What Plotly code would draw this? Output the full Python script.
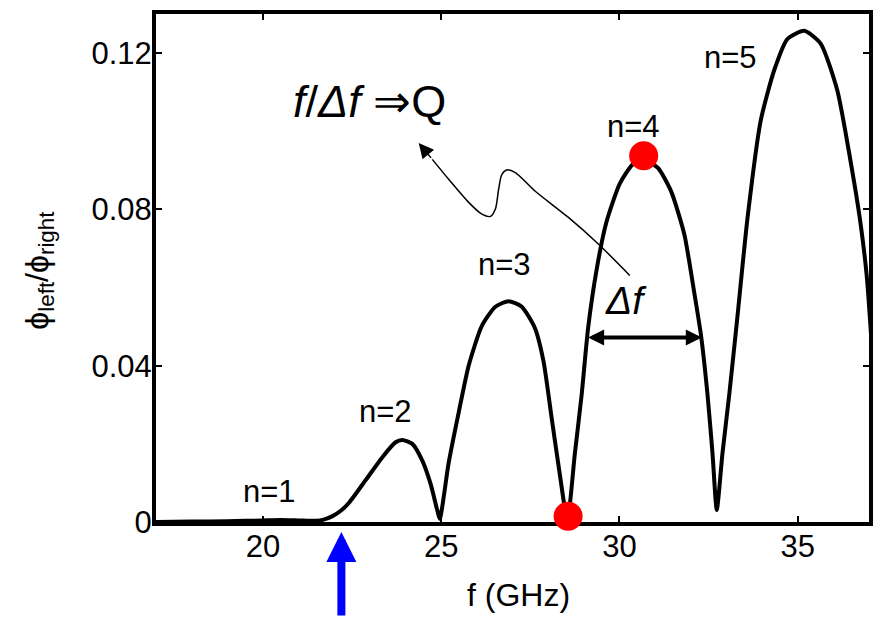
import plotly.graph_objects as go

# ---- data ----
freq_ghz = [17.0, 18.0, 19.0, 19.5, 20.0, 20.5, 21.0, 21.5, 21.7, 21.95, 22.2, 22.42, 22.88,
            23.35, 23.72, 23.91, 24.19, 24.47, 24.70, 24.89, 24.96, 25.21, 25.49,
            25.77, 26.14, 26.52, 26.89, 27.26, 27.63, 27.87, 28.10, 28.33, 28.54, 28.75,
            28.94, 29.12, 29.36, 29.63, 30.01, 30.38, 30.71, 31.08, 31.45, 31.82, 32.10,
            32.29, 32.47, 32.61, 32.73, 32.89, 33.08, 33.31, 33.59, 33.96, 34.34, 34.71,
            35.18, 35.64, 36.11, 36.48, 36.76, 36.94, 37.10]
phi_ratio = [0.0000, 0.0001, 0.0002, 0.0003, 0.0004, 0.0005, 0.0004, 0.0003, 0.0006, 0.0015,
             0.0030, 0.0050, 0.0107, 0.0166, 0.0204, 0.0210, 0.0200, 0.0157, 0.0098, 0.0030,
             0.0008, 0.0152, 0.0280, 0.0400, 0.0502, 0.0551, 0.0565, 0.0551, 0.0496,
             0.0411, 0.0265, 0.0120, 0.0005, 0.0176, 0.0326, 0.0496, 0.0646, 0.0766, 0.0866,
             0.0916, 0.0926, 0.0906, 0.0846, 0.0736, 0.0586, 0.0476, 0.0326, 0.0176, 0.0031,
             0.0176, 0.0326, 0.0526, 0.0776, 0.1026, 0.1156, 0.1236, 0.1257, 0.1225, 0.1105,
             0.0925, 0.0766, 0.0626, 0.0420]

dot_f = [28.56, 30.68]
dot_phi = [0.0015, 0.0937]

mode_labels = ["n=1", "n=2", "n=3", "n=4", "n=5"]
mode_label_f = [20.18, 23.45, 26.78, 30.38, 33.12]
mode_label_phi = [0.0079, 0.0284, 0.0658, 0.1011, 0.1188]

x_ticks = [20, 25, 30, 35]
y_ticks = [0, 0.04, 0.08, 0.12]
y_tick_text = ["0", "0.04", "0.08", "0.12"]

# half-width marker (Δf) and curved pointer
df_left, df_right, df_level = 29.08, 32.31, 0.0472
pointer_f = [30.29, 29.40, 28.56, 27.63, 27.08, 26.84, 26.70, 26.61, 26.52, 26.38,
             26.14, 25.77, 25.21, 24.75]
pointer_phi = [0.0631, 0.0712, 0.0780, 0.0847, 0.0894, 0.0901, 0.0889, 0.0851, 0.0801,
               0.0782, 0.0788, 0.0818, 0.0877, 0.0928]
pointer_tip = (24.37, 0.0970)
cutoff_f = 22.2

FONT = "Liberation Sans, Arial, sans-serif"

fig = go.Figure()
fig.add_trace(go.Scatter(x=freq_ghz, y=phi_ratio, mode="lines",
                         line=dict(color="black", width=4, shape="spline", smoothing=0.6),
                         hoverinfo="skip", showlegend=False))
fig.add_trace(go.Scatter(x=pointer_f, y=pointer_phi, mode="lines",
                         line=dict(color="black", width=1.5, shape="spline", smoothing=0.8),
                         hoverinfo="skip", showlegend=False))
fig.add_trace(go.Scatter(x=dot_f, y=dot_phi, mode="markers",
                         marker=dict(color="#ff0000", size=29, line=dict(width=0)),
                         cliponaxis=False, showlegend=False))

ann = []
for t, xx, yy in zip(mode_labels, mode_label_f, mode_label_phi):
    ann.append(dict(x=xx, y=yy, text=t, showarrow=False,
                    font=dict(family=FONT, size=31, color="black")))

ann.append(dict(x=22.98, y=0.1076, text="<i>f</i>/<i>Δf</i> ⇒Q", showarrow=False,
                font=dict(family=FONT, size=45, color="black")))
ann.append(dict(x=30.18, y=0.0566, text="<i>Δf</i>", showarrow=False,
                font=dict(family=FONT, size=39, color="black")))
# double arrow
ann.append(dict(x=df_right, y=df_level, ax=df_left, ay=df_level, axref="x", ayref="y",
                xref="x", yref="y", text="", showarrow=True, arrowhead=2, startarrowhead=2,
                arrowside="end+start", arrowsize=0.8, startarrowsize=0.8, arrowwidth=4,
                arrowcolor="black", standoff=0, startstandoff=0))
# pointer head
ann.append(dict(x=pointer_tip[0], y=pointer_tip[1], ax=pointer_f[-1], ay=pointer_phi[-1],
                axref="x", ayref="y", xref="x", yref="y", text="", showarrow=True,
                arrowhead=2, arrowsize=2, arrowwidth=1.5, arrowcolor="black", standoff=0))
# blue cutoff arrow below axis
ann.append(dict(x=cutoff_f, y=-0.0195, xref="x", yref="paper", ax=0, ay=85, text="",
                showarrow=True, arrowhead=2, arrowsize=0.75, arrowwidth=8,
                arrowcolor="#0000ff", standoff=0))
# axis titles
ann.append(dict(x=0.509, y=-0.1445, xref="paper", yref="paper", text="f (GHz)",
                xanchor="center", yanchor="middle",
                showarrow=False, font=dict(family=FONT, size=32, color="black")))
ann.append(dict(x=-0.1646, y=0.496, xref="paper", yref="paper",
                text="ϕ<sub>left</sub>/ϕ<sub>right</sub>", textangle=-90,
                xanchor="center", yanchor="middle",
                showarrow=False, font=dict(family=FONT, size=32, color="black")))

axis_common = dict(showline=True, linecolor="black", linewidth=4, mirror="ticks",
                   ticks="inside", ticklen=6, tickwidth=2, tickcolor="black",
                   showgrid=False, zeroline=False, layer="below traces",
                   tickfont=dict(family=FONT, size=31, color="black"))

fig.update_layout(
    width=883, height=617,
    margin=dict(l=156, r=10, t=10, b=95),
    paper_bgcolor="white", plot_bgcolor="white",
    xaxis=dict(range=[17, 37], tickvals=x_ticks, ticklabelstandoff=-6, **axis_common),
    yaxis=dict(range=[0, 0.13], tickvals=y_ticks, ticktext=y_tick_text,
               ticklabelstandoff=-6, **axis_common),
    annotations=ann,
    showlegend=False,
)

fig.write_html("out.html", config={"displayModeBar": False},
               post_script="document.body.style.margin='0px';document.body.style.padding='0px';")
